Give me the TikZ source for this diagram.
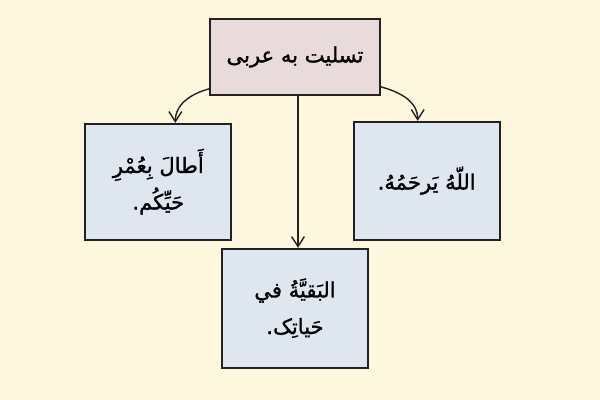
\documentclass[tikz,border=0pt]{standalone}
\usepackage{fontspec}
\newfontfamily\arabicfont[Script=Arabic,FakeBold=1.4]{DejaVu Sans}
\TeXXeTstate=1
\usetikzlibrary{positioning,arrows.meta}
\definecolor{bgcream}{RGB}{253,247,221}
\definecolor{rootfill}{RGB}{233,219,220}
\definecolor{leaffill}{RGB}{222,230,239}
\definecolor{inkline}{RGB}{34,34,34}

\tikzset{
	box/.style={draw=inkline,line width=1.2pt,align=center,inner sep=0pt,
		font=\arabicfont\fontsize{15}{26}\selectfont},
	rootbox/.style={box,fill=rootfill,minimum width=4.25cm,minimum height=1.9cm},
	leafbox/.style={box,fill=leaffill,minimum width=3.65cm,minimum height=2.9cm},
	arr/.style={draw=inkline,line width=1pt,-{Straight Barb[length=2.5mm,width=3.2mm]}}
}

\begin{document}
\begin{tikzpicture}
	\fill[bgcream] (0,0) rectangle (15,-10);
	\useasboundingbox (0,0) rectangle (15,-10);

	\node[rootbox] (title) at (7.375,-1.425) {\beginR تسلیت به عربی\endR};

	\node[leafbox, below left=0.675cm and -0.575cm of title] (left)
		{\beginR أَطالَ بِعُمْرِ\endR\\\beginR حَيِّكُم.\endR};
	\node[leafbox, below right=0.625cm and -0.7cm of title, minimum height=2.95cm] (right)
		{\beginR اللّهُ يَرحَمُهُ.\endR};
	\node[leafbox, below=3.8cm of title, minimum height=2.975cm] (bottom)
		{\beginR البَقيَّةُ في\endR\\\beginR حَياتِک.\endR};

	% arrows from the title box
	\draw[arr] ([yshift=0.175cm]title.south west) to[out=195,in=90] ([xshift=0.425cm]left.north);
	\draw[arr] ([yshift=0.225cm]title.south east) to[out=-15,in=90] ([xshift=-0.225cm]right.north);
	\draw[arr] ([xshift=0.075cm]title.south) -- ([xshift=0.075cm]bottom.north);
\end{tikzpicture}
\end{document}
